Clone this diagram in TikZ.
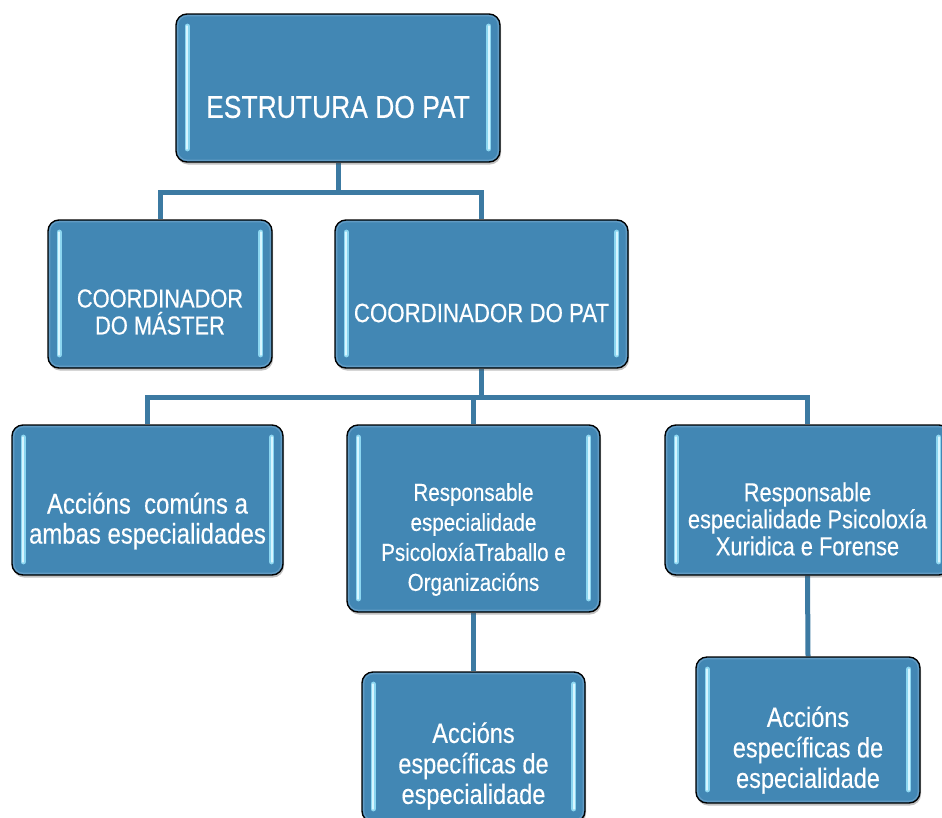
\documentclass[tikz,border=0pt]{standalone}
\usepackage{fontspec}
\setmainfont[FakeStretch=0.84,FakeBold=0.35]{Liberation Sans}
\usetikzlibrary{calc,shadows}
\definecolor{boxblue}{RGB}{66,135,180}
\definecolor{connblue}{RGB}{60,122,162}
\definecolor{hlcyan}{RGB}{140,214,240}
\definecolor{hlwhite}{RGB}{215,246,255}
\definecolor{bevel}{RGB}{105,160,200}
\pgfdeclarelayer{bg}\pgfsetlayers{bg,main}
\tikzset{
  orgbox/.style={draw=black, line width=1.4pt, rounded corners=11pt, fill=boxblue,
    inner sep=0pt, drop shadow={shadow xshift=1pt, shadow yshift=-2.5pt, opacity=0.35, fill=black!70}},
  bevelline/.style={draw=bevel, line width=1.3pt, rounded corners=9pt, opacity=0.8},
  hlbar/.style={line width=5.5pt, draw=hlcyan, line cap=round,
    postaction={draw=hlwhite, line width=2.2pt, line cap=round}},
  conn/.style={line width=5pt, draw=connblue},
  lbl/.style={text=white, align=center, inner sep=0pt},
}
\newcommand{\boxdeco}[1]{%
  \draw[bevelline] ($(#1.north west)+(2.5,2.5)$) rectangle ($(#1.south east)+(-2.5,-2.5)$);
  \draw[hlbar] ($(#1.north west)+(12,13)$) -- ($(#1.south west)+(12,-14)$);
  \draw[hlbar] ($(#1.north east)+(-12,13)$) -- ($(#1.south east)+(-12,-14)$);
}
\begin{document}
\begin{tikzpicture}[x=1pt, y=-1pt]
\useasboundingbox (0,0) rectangle (942,817);
% boxes
\node[orgbox, minimum width=324pt, minimum height=148pt] (b1) at (338,88) {};
\node[orgbox, minimum width=224pt, minimum height=148pt] (b2) at (160,294) {};
\node[orgbox, minimum width=293pt, minimum height=148pt] (b3) at (481.5,294) {};
\node[orgbox, minimum width=271pt, minimum height=150pt] (b4) at (147.5,500) {};
\node[orgbox, minimum width=253pt, minimum height=187pt] (b5) at (473.5,518.5) {};
\node[orgbox, minimum width=285pt, minimum height=150pt] (b6) at (807.5,500) {};
\node[orgbox, minimum width=223pt, minimum height=150pt] (b7) at (473.5,747) {};
\node[orgbox, minimum width=224pt, minimum height=146pt] (b8) at (808,730) {};
\foreach \b in {b1,b2,b3,b4,b5,b6,b7,b8} {\boxdeco{\b}}
% connectors
\begin{pgfonlayer}{bg}
\draw[conn] (b1.south) -- ++(0,30) coordinate (j1) -| (b2.north);
\draw[conn] (j1) -| (b3.north);
\draw[conn] (b3.south) -- ++(0,29) coordinate (j2) -| (b4.north);
\draw[conn] (j2) -| (b5.north);
\draw[conn] (j2) -| (b6.north);
\draw[conn] (b5.south) -- (b7.north);
\draw[conn] (b6.south) -- (b8.north);
\end{pgfonlayer}
% labels
\node[lbl, font=\fontsize{31.5}{33}\selectfont] (t1) at ($(b1.center)+(0,19)$) {ESTRUTURA DO PAT};
\node[lbl, font=\fontsize{26}{27}\selectfont] (t2) at ($(b2.center)+(0,18)$) {COORDINADOR\\DO MÁSTER};
\node[lbl, font=\fontsize{26.5}{27}\selectfont] (t3) at ($(b3.center)+(0,19)$) {COORDINADOR DO PAT};
\node[lbl, font=\fontsize{28.5}{30}\selectfont] (t4) at ($(b4.center)+(0,21)$) {Accións\ \ comúns a\\ambas especialidades};
\node[lbl, font=\fontsize{24.5}{30}\selectfont] (t5) at ($(b5.center)+(0,21)$) {Responsable\\especialidade\\PsicoloxíaTraballo e\\Organizacións};
\node[lbl, font=\fontsize{26}{27}\selectfont] (t6) at ($(b6.center)+(0,19)$) {Responsable\\especialidade Psicoloxía\\Xuridica e Forense};
\node[lbl, font=\fontsize{28}{30.5}\selectfont] (t7) at ($(b7.center)+(0,19)$) {Accións\\específicas de\\especialidade};
\node[lbl, font=\fontsize{28}{30.5}\selectfont] (t8) at ($(b8.center)+(0,20)$) {Accións\\específicas de\\especialidade};
\end{tikzpicture}
\end{document}
